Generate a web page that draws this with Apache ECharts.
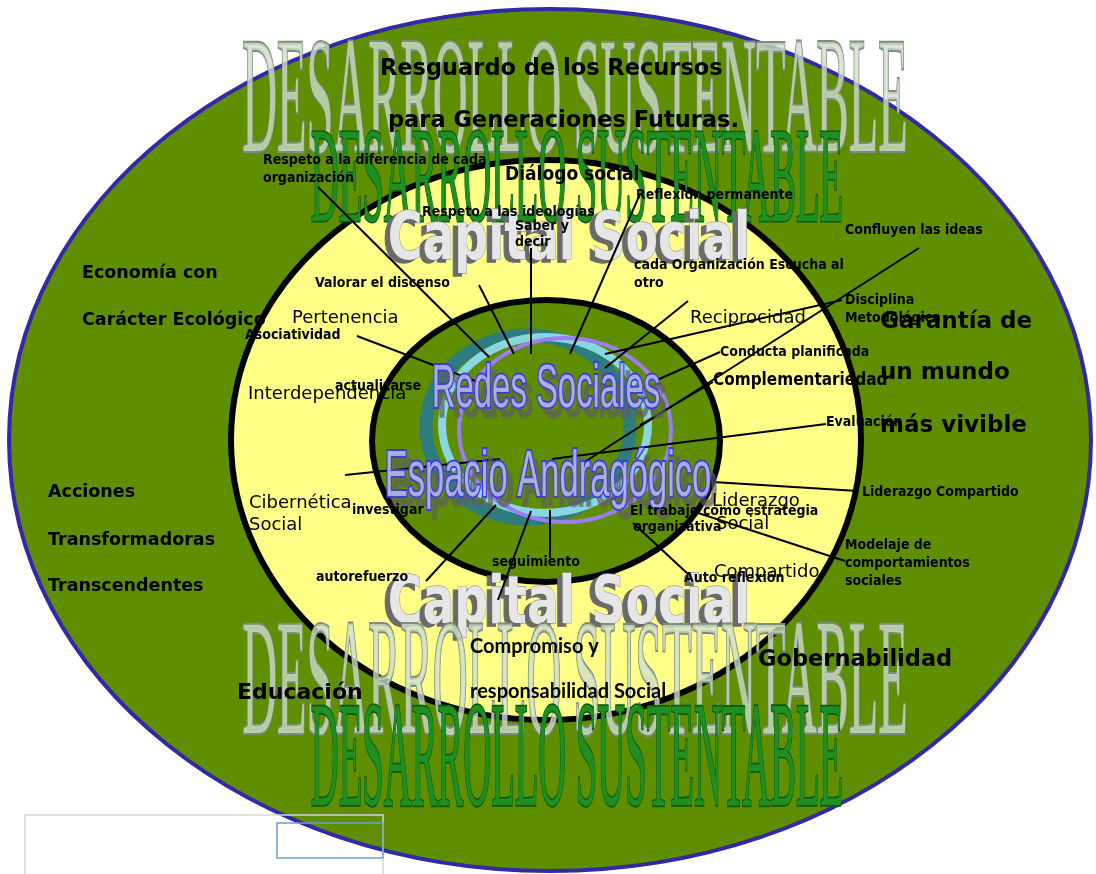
<!DOCTYPE html>
<html><head><meta charset="utf-8">
<script src="https://cdn.jsdelivr.net/npm/echarts@6/dist/echarts.min.js"></script>
<style>html,body{margin:0;padding:0;background:#fff}#c{width:1096px;height:874px}</style>
</head><body><div id="c"></div>
<script>
// ---------------- data: diagram content ----------------
// concentric areas of the diagram
const areaNames  = ['Desarrollo Sustentable', 'Capital Social', 'Redes Sociales', 'anillo 1', 'anillo 2', 'anillo 3'];
// big titles
const titleTexts = ['DESARROLLO SUSTENTABLE', 'DESARROLLO SUSTENTABLE', 'DESARROLLO SUSTENTABLE', 'DESARROLLO SUSTENTABLE',
                    'Capital Social', 'Capital Social', 'Redes Sociales', 'Espacio Andragógico'];
// outer (green) ring concepts
const outerTexts = ['Resguardo de los Recursos', 'para Generaciones Futuras.', 'Economía con', 'Carácter Ecológico',
                    'Acciones', 'Transformadoras', 'Transcendentes', 'Educación', 'Gobernabilidad',
                    'Garantía de', 'un mundo', 'más vivible'];
// capital social (yellow ring) concepts
const capitalTexts = ['Pertenencia', 'Interdependencia', 'Reciprocidad', 'Cibernética', 'Social', 'Liderazgo', 'Social',
                      'Compartido', 'Compromiso y', 'responsabilidad Social', 'Diálogo social', 'Complementariedad'];
// connector notes
const noteTexts = ['Respeto a la diferencia de cada', 'organización', 'Reflexión permanente', 'Respeto a las ideologías',
                   'Saber y', 'decir', 'cada Organización Escucha al', 'otro', 'Valorar el discenso', 'Asociatividad',
                   'Confluyen las ideas', 'Disciplina', 'Metodológica', 'Conducta planificada', 'actualizarse',
                   'Evaluación', 'investigar', 'Liderazgo Compartido', 'El trabajo como estrategia', 'organizativa',
                   'Modelaje de', 'comportamientos', 'sociales', 'seguimiento', 'autorefuerzo', 'Auto reflexión'];

// ---------------- layout (positions in the 1096 x 874 diagram space) ----------------
const areaCx = [550, 546, 546, 528, 545, 565];
const areaCy = [440, 440, 441, 427, 425, 430];
const areaRx = [541, 315, 174, 102, 103, 106];
const areaRy = [431, 280, 141, 92, 88, 92];

const titleCx = [575, 577, 575, 577, 569, 569, 546, 548];
const titleCy = [107, 185, 689, 766, 242, 606, 390, 478];

const outerX = [380, 388, 82, 82, 48, 48, 48, 237, 758, 880, 880, 880];
const outerY = [69, 121, 273, 320, 492, 540, 586, 693, 660, 322, 373, 426];

const capitalX = [292, 248, 690, 249, 249, 712, 716, 714, 470, 470, 505, 713];
const capitalY = [318, 394, 318, 503, 525, 501, 524, 572, 647, 692, 175, 381];

const noteX = [263, 263, 636, 422, 515, 515, 634, 634, 315, 245, 845, 845, 845, 720, 335,
               826, 352, 862, 630, 633, 845, 845, 845, 492, 316, 684];
const noteY = [160, 178, 195, 212, 226, 242, 265, 283, 283, 335, 230, 300, 318, 352, 386,
               422, 510, 492, 511, 527, 545, 563, 581, 562, 577, 578];

// connector lines [x1, y1, x2, y2]
const connectors = [
  [318, 187, 489, 357], [479, 285, 514, 354], [531, 248, 531, 354], [640, 194, 570, 354],
  [688, 301, 605, 368], [842, 300, 605, 354], [919, 248, 583, 463], [720, 352, 657, 380],
  [713, 382, 640, 425], [826, 424, 552, 459], [858, 491, 713, 482], [845, 561, 692, 511],
  [688, 574, 633, 523], [550, 510, 550, 558], [531, 511, 498, 600], [496, 505, 426, 581],
  [345, 475, 500, 459], [357, 336, 478, 382]
];

// boxes in the lower-left corner [x1, y1, x2, y2]
const boxes = [[25, 815, 383, 880], [277, 823, 383, 858]];

// ---------------- styles ----------------
const GREEN = '#5f8e00';
const areaFill   = [GREEN, '#ffff88', GREEN, 'none', 'none', 'none'];
const areaStroke = ['#3328a6', '#000000', '#000000', '#2e7d7e', '#88d6de', '#9d7df4'];
const areaWidth  = [4, 6, 6, 13, 8, 4];

const SERIF = "'Liberation Serif','DejaVu Serif',serif";
const NARROW = "'Liberation Sans Narrow','DejaVu Sans Condensed','Liberation Sans',sans-serif";
const HEAVY = "'DejaVu Sans',sans-serif";
const LATO = "Lato,'Open Sans',sans-serif";

const titleStyle = [
  {size: 166, sx: 0.291, sy: 1.0, family: SERIF, weight: 'normal', fill: 'rgba(208,222,202,0.78)', stroke: '#7d8c7b', lw: 4},
  {size: 136, sx: 0.284, sy: 1.0, family: SERIF, weight: 'normal', fill: '#1f8f22', stroke: '#0c5a10', lw: 3},
  {size: 166, sx: 0.291, sy: 1.0, family: SERIF, weight: 'normal', fill: 'rgba(208,222,202,0.78)', stroke: '#7d8c7b', lw: 4},
  {size: 136, sx: 0.284, sy: 1.1, family: SERIF, weight: 'normal', fill: '#1f8f22', stroke: '#0c5a10', lw: 3},
  {size: 50, sx: 0.945, sy: 1.3, family: HEAVY, weight: 'bold', fill: '#e6e6e6', stroke: '#9a9a9a', lw: 1, shadow: '#6a6a6a', sox: -5, soy: 3},
  {size: 50, sx: 0.945, sy: 1.3, family: HEAVY, weight: 'bold', fill: '#e6e6e6', stroke: '#9a9a9a', lw: 1, shadow: '#6a6a6a', sox: -5, soy: 3},
  {size: 62, sx: 0.53, sy: 1.0, family: "'Liberation Sans',sans-serif", weight: 'normal', fill: 'rgba(196,196,232,0.8)', stroke: '#3b3be0', lw: 4, shadow: 'rgba(95,95,95,0.6)', sox: 6, soy: 9},
  {size: 64, sx: 0.54, sy: 1.0, family: "'Liberation Sans',sans-serif", weight: 'normal', fill: 'rgba(196,196,232,0.8)', stroke: '#3b3be0', lw: 4, shadow: 'rgba(95,95,95,0.6)', sox: 6, soy: 9}
];

const outerSize = [22.5, 22.5, 17.5, 17.5, 17.5, 17.5, 17.5, 22, 22.5, 23, 23, 23];
const capitalSize = [18, 18, 18, 18, 18, 18, 18, 18, 20, 20, 19, 17];
const capitalFamily = ['D', 'D', 'D', 'D', 'D', 'D', 'D', 'D', 'L', 'L', 'N', 'N'];
const noteSize = 14;

// ---------------- build ----------------
function ellipseSeries() {
  return {
    type: 'custom', coordinateSystem: 'cartesian2d', z: 1, silent: true,
    data: areaNames.map((n, i) => ({name: n, value: [areaCx[i], areaCy[i], areaRx[i], areaRy[i]]})),
    renderItem: function (params, api) {
      const i = params.dataIndex;
      const c = api.coord([api.value(0), api.value(1)]);
      const s = api.size([api.value(2), api.value(3)]);
      return {type: 'ellipse', shape: {cx: c[0], cy: c[1], rx: s[0], ry: s[1]},
        style: {fill: areaFill[i], stroke: areaStroke[i], lineWidth: areaWidth[i]}};
    }
  };
}

function titleSeries(idxs, z) {
  return {
    type: 'custom', coordinateSystem: 'cartesian2d', z: z, silent: true,
    data: idxs.map(i => ({name: titleTexts[i], value: [titleCx[i], titleCy[i], i]})),
    renderItem: function (params, api) {
      const i = api.value(2);
      const st = titleStyle[i];
      const c = api.coord([api.value(0), api.value(1)]);
      const style = {text: titleTexts[i], fontSize: st.size, fontFamily: st.family, fontWeight: st.weight,
        fill: st.fill, stroke: st.stroke, lineWidth: st.lw, align: 'center', verticalAlign: 'middle'};
      if (st.shadow) { style.textShadowColor = st.shadow; style.textShadowOffsetX = st.sox; style.textShadowOffsetY = st.soy; style.textShadowBlur = 0.1; }
      return {type: 'text', x: c[0], y: c[1], scaleX: st.sx, scaleY: st.sy, style: style};
    }
  };
}

function lineSeries() {
  return {
    type: 'custom', coordinateSystem: 'cartesian2d', z: 5, silent: true,
    data: connectors,
    renderItem: function (params, api) {
      const a = api.coord([api.value(0), api.value(1)]);
      const b = api.coord([api.value(2), api.value(3)]);
      return {type: 'line', shape: {x1: a[0], y1: a[1], x2: b[0], y2: b[1]}, style: {stroke: '#000', lineWidth: 2}};
    }
  };
}

function labelSeries(texts, xs, ys, fontFn, z) {
  return {
    type: 'custom', coordinateSystem: 'cartesian2d', z: z, silent: true,
    data: texts.map((t, i) => ({name: t, value: [xs[i], ys[i], i]})),
    renderItem: function (params, api) {
      const i = api.value(2);
      const c = api.coord([api.value(0), api.value(1)]);
      const f = fontFn(i);
      return {type: 'text', x: c[0], y: c[1], style: {text: texts[i], fontSize: f.size, fontFamily: f.family,
        fontWeight: f.weight, fill: '#000', align: 'left', verticalAlign: 'middle'}};
    }
  };
}

function boxSeries() {
  return {
    type: 'custom', coordinateSystem: 'cartesian2d', z: 9, silent: true,
    data: boxes,
    renderItem: function (params, api) {
      const a = api.coord([api.value(0), api.value(1)]);
      const b = api.coord([api.value(2), api.value(3)]);
      return {type: 'rect', shape: {x: a[0], y: a[1], width: b[0] - a[0], height: b[1] - a[1]},
        style: {fill: 'none', stroke: params.dataIndex === 0 ? '#d6d6d6' : '#6aa0d2', lineWidth: 1.5}};
    }
  };
}

const chart = echarts.init(document.getElementById('c'), null, {renderer: 'canvas', width: 1096, height: 874});
chart.setOption({
  backgroundColor: '#ffffff',
  animation: false,
  grid: {left: 0, right: 0, top: 0, bottom: 0},
  xAxis: {type: 'value', min: 0, max: 1096, show: false},
  yAxis: {type: 'value', min: 0, max: 874, inverse: true, show: false},
  series: [
    ellipseSeries(),
    titleSeries([0, 1], 2),
    titleSeries([4, 5], 3),
    titleSeries([2, 3], 4),
    lineSeries(),
    titleSeries([6, 7], 6),
    labelSeries(outerTexts, outerX, outerY, i => ({size: outerSize[i], family: HEAVY, weight: 'bold'}), 7),
    labelSeries(capitalTexts, capitalX, capitalY, i => ({
      size: capitalSize[i],
      family: capitalFamily[i] === 'D' ? HEAVY : (capitalFamily[i] === 'L' ? LATO : NARROW),
      weight: capitalFamily[i] === 'D' ? 'normal' : 'bold'}), 7),
    labelSeries(noteTexts, noteX, noteY, i => ({size: noteSize, family: NARROW, weight: 'bold'}), 8),
    boxSeries()
  ]
});
</script>
</body></html>
